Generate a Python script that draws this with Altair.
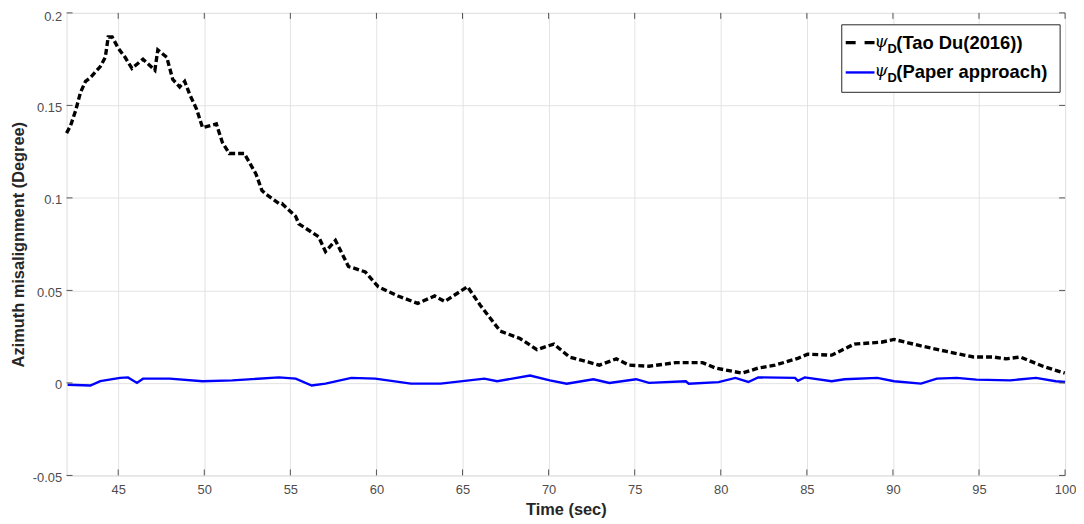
import altair as alt
import pandas as pd

# Black dashed series: psi_D (Tao Du(2016))
tao_t = [42.0, 42.23, 42.52, 42.81, 43.1, 43.38, 43.67, 43.96, 44.25, 44.42, 44.65, 45.0,
         45.4, 45.8, 46.44, 47.13, 47.3, 47.82, 48.17, 48.57, 48.86, 49.15, 49.55, 49.9,
         50.7, 51.05, 51.45, 52.32, 53.0, 53.35, 53.58, 54.33, 54.5, 55.31, 55.49, 56.64,
         57.04, 57.62, 58.37, 59.35, 60.1, 61.25, 62.4, 63.38, 63.96, 65.29, 66.03, 67.19,
         68.34, 69.32, 70.3, 71.22, 72.95, 73.93, 74.68, 75.83, 77.39, 78.94, 79.7, 81.25,
         82.17, 83.15, 84.48, 85.05, 86.44, 87.76, 89.32, 90.07, 91.63, 93.12, 94.68, 95.83,
         96.58, 97.39, 98.71, 99.98]
tao_v = [0.135, 0.139, 0.147, 0.157, 0.163, 0.165, 0.168, 0.171, 0.176, 0.187, 0.187, 0.181,
         0.176, 0.170, 0.175, 0.169, 0.180, 0.176, 0.164, 0.160, 0.163, 0.156, 0.148, 0.138,
         0.140, 0.130, 0.124, 0.124, 0.113, 0.104, 0.102, 0.097, 0.097, 0.090, 0.086, 0.079,
         0.071, 0.077, 0.063, 0.060, 0.052, 0.047, 0.043, 0.047, 0.044, 0.052, 0.042, 0.028,
         0.024, 0.018, 0.021, 0.014, 0.0096, 0.013, 0.0096, 0.009, 0.011, 0.011, 0.008, 0.0053,
         0.008, 0.0096, 0.0133, 0.0155, 0.015, 0.021, 0.022, 0.0235, 0.020, 0.017, 0.014, 0.014,
         0.013, 0.014, 0.009, 0.0053]

# Blue solid series: psi_D (Paper approach)
pap_t = [42.06, 43.38, 43.96, 45.11, 45.57, 46.09, 46.44, 47.99, 49.9, 51.63, 54.33, 55.31,
         56.24, 57.04, 58.54, 59.93, 62.0, 63.73, 66.27, 67.01, 68.92, 70.07, 71.05, 72.6,
         73.53, 75.08, 75.83, 77.97, 78.14, 79.87, 80.85, 81.6, 82.17, 84.31, 84.48, 84.88,
         86.44, 87.19, 89.09, 90.07, 91.63, 92.55, 93.7, 94.85, 96.81, 98.31, 99.46, 100.0]
pap_v = [-0.001, -0.0014, 0.001, 0.0027, 0.003, 0.0, 0.0023, 0.0023, 0.0009, 0.0014, 0.003, 0.0023,
         -0.0014, -0.0004, 0.0027, 0.0023, -0.0004, -0.0004, 0.0023, 0.0009, 0.004, 0.0014, -0.0004, 0.002,
         0.0, 0.002, 0.0, 0.0009, -0.0004, 0.0004, 0.0027, 0.0005, 0.003, 0.0027, 0.0012, 0.003,
         0.0009, 0.002, 0.0027, 0.0009, -0.0004, 0.0023, 0.0027, 0.0018, 0.0014, 0.0027, 0.0009, 0.0005]

x_ticks = [45, 50, 55, 60, 65, 70, 75, 80, 85, 90, 95, 100]
y_ticks = [-0.05, 0, 0.05, 0.1, 0.15, 0.2]
y_tick_labels = ["-0.05", "0", "0.05", "0.1", "0.15", "0.2"]
legend_labels = ["(Tao Du(2016))", "(Paper approach)"]

W, H = 1006, 466
FONT = "Liberation Sans"
FRAME = "#555555"

y_label_expr = " : ".join(
    f"abs(datum.value - ({v})) < 1e-9 ? '{l}'" for v, l in zip(y_ticks, y_tick_labels)
) + " : ''"

xs = alt.Scale(domain=[42, 100], nice=False, zero=False)
ys = alt.Scale(domain=[-0.05, 0.2], nice=False, zero=False)

xax = alt.Axis(values=x_ticks, title="Time (sec)", grid=True, ticks=False, domain=False,
               labelFontSize=13, labelColor="#4d4d4d", labelPadding=8, labelFont=FONT,
               titleFont=FONT, titleFontSize=16.5, titleFontWeight="bold", titleColor="#262626",
               titlePadding=5, gridColor="#e3e3e3", labelFlush=False)
yax = alt.Axis(values=y_ticks, title="Azimuth misalignment (Degree)", grid=True, ticks=False,
               domain=False, labelExpr=y_label_expr, labelFontSize=13, labelColor="#4d4d4d",
               labelPadding=5, labelFont=FONT, titleFont=FONT, titleFontSize=16.5,
               titleFontWeight="bold", titleColor="#262626", titlePadding=6,
               gridColor="#e3e3e3",
               labelOffset={"condition": {"test": "datum.value > 0.19", "value": 4}, "value": 2})

tao_df = pd.DataFrame({"t": tao_t, "v": tao_v})
pap_df = pd.DataFrame({"t": pap_t, "v": pap_v})
xt_df = pd.DataFrame({"t": x_ticks})
yt_df = pd.DataFrame({"v": y_ticks})

tao = alt.Chart(tao_df).mark_line(color="black", strokeWidth=3.4, strokeDash=[6, 3]).encode(
    x=alt.X("t:Q", scale=xs, axis=xax),
    y=alt.Y("v:Q", scale=ys, axis=yax),
)
pap = alt.Chart(pap_df).mark_line(color="#0000ff", strokeWidth=2.4).encode(
    x=alt.X("t:Q", scale=xs),
    y=alt.Y("v:Q", scale=ys),
)

# inward ticks on all four sides (box on)
TL = 6
xt_bot = alt.Chart(xt_df).mark_rule(color=FRAME, strokeWidth=1).encode(
    x=alt.X("t:Q", scale=xs), y=alt.value(H), y2=alt.value(H - TL))
xt_top = alt.Chart(xt_df).mark_rule(color=FRAME, strokeWidth=1).encode(
    x=alt.X("t:Q", scale=xs), y=alt.value(0), y2=alt.value(TL))
yt_left = alt.Chart(yt_df).mark_rule(color=FRAME, strokeWidth=1).encode(
    y=alt.Y("v:Q", scale=ys), x=alt.value(0), x2=alt.value(TL))
yt_right = alt.Chart(yt_df).mark_rule(color=FRAME, strokeWidth=1).encode(
    y=alt.Y("v:Q", scale=ys), x=alt.value(W), x2=alt.value(W - TL))

one = pd.DataFrame({"a": [0]})
box = alt.Chart(one).mark_rect(fill="white", stroke="#262626", strokeWidth=1).encode(
    x=alt.value(781), x2=alt.value(1001), y=alt.value(12), y2=alt.value(80))
leg_line1 = alt.Chart(one).mark_rule(color="black", strokeWidth=3.4, strokeDash=[10, 9]).encode(
    x=alt.value(785), x2=alt.value(814), y=alt.value(30))
leg_line2 = alt.Chart(one).mark_rule(color="#0000ff", strokeWidth=2.4).encode(
    x=alt.value(785), x2=alt.value(814), y=alt.value(60))


def psi(y):
    return alt.Chart(one).mark_text(text="ψ", font="DejaVu Serif", fontStyle="italic",
                                    fontSize=17, align="left", baseline="middle",
                                    color="black").encode(x=alt.value(814), y=alt.value(y))


def sub(y):
    return alt.Chart(one).mark_text(text="D", font=FONT, fontWeight="bold", fontSize=13,
                                    align="left", baseline="middle",
                                    color="black").encode(x=alt.value(827), y=alt.value(y))


def lab(y, s):
    return alt.Chart(one).mark_text(text=s, font=FONT, fontWeight="bold", fontSize=18.5,
                                    align="left", baseline="middle",
                                    color="black").encode(x=alt.value(836), y=alt.value(y))


chart = alt.layer(
    tao, pap, xt_bot, xt_top, yt_left, yt_right, box, leg_line1, leg_line2,
    psi(29), sub(36), lab(30, legend_labels[0]),
    psi(59), sub(66), lab(60, legend_labels[1]),
).properties(
    width=W, height=H,
    autosize=alt.AutoSizeParams(type="none"),
    padding={"left": 59, "top": 3, "right": 11, "bottom": 47},
).configure_view(
    stroke=FRAME, strokeWidth=1
).configure(background="white")

chart.save("out.html", embed_options={"renderer": "svg", "actions": False})
